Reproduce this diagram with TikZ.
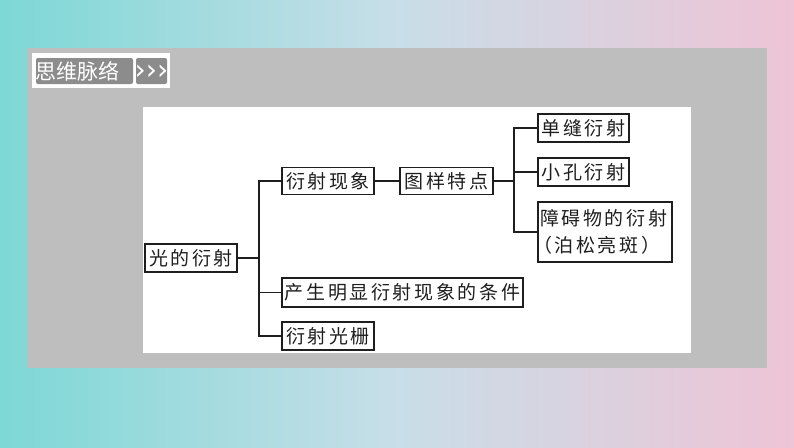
\documentclass[tikz,border=0pt]{standalone}
\usepackage{fontspec}
\newfontfamily\cjk[LetterSpace=14]{Noto Sans CJK SC}
\newfontfamily\cjktitle{Noto Sans CJK SC}
\newfontfamily\dejavu{DejaVu Sans}
\definecolor{bgleft}{RGB}{125,216,214}
\definecolor{bgright}{RGB}{238,196,214}
\definecolor{bgmid}{RGB}{200,222,232}
\definecolor{panel}{RGB}{190,190,190}
\definecolor{tagbg}{RGB}{140,140,140}
\definecolor{ink}{RGB}{30,30,30}
\begin{document}
\begin{tikzpicture}[x=1pt,y=-1pt,
  box/.style={draw=ink, line width=1.1pt, fill=white, inner sep=0pt,
    font=\cjk\fontsize{19}{27}\selectfont, text=ink},
  link/.style={draw=ink, line width=1.1pt},
  tag/.style={fill=tagbg, rounded corners=2pt}]
\useasboundingbox (0,0) rectangle (794,447);
% background
\shade[left color=bgleft, right color=bgright, middle color=bgmid] (0,0) rectangle (794,447);
% gray panel
\fill[panel] (27,48) rectangle (767,368);
% title tag
\fill[white] (32,53) rectangle (170,88);
\fill[tag] (36,58) rectangle (133,84);
\fill[tag] (136,58) rectangle (167,84);
\node[anchor=west, inner sep=0pt, text=white, font=\cjktitle\fontsize{21}{24}\selectfont] (title) at (35,71) {思维脉络};
\node[inner sep=0pt, text=white, font=\dejavu\fontsize{28}{30}\selectfont] (chev) at (151.5,72) {›››};
% white panel
\fill[white] (143,107) rectangle (691,353);
% nodes
\node[box, minimum width=92, minimum height=28] (guang) at (191,258) {光的衍射};
\node[box, minimum width=92, minimum height=27] (xxian) at (328,181) {衍射现象};
\node[box, minimum width=93, minimum height=27] (tuyang) at (446.5,181) {图样特点};
\node[box, minimum width=241, minimum height=29] (chansheng) at (402.5,292.5) {产生明显衍射现象的条件};
\node[box, minimum width=92, minimum height=28] (guangshan) at (328,336) {衍射光栅};
\node[box, minimum width=91, minimum height=28] (danfeng) at (583.5,128) {单缝衍射};
\node[box, minimum width=91, minimum height=28] (xiaokong) at (583.5,172) {小孔衍射};
\node[box, minimum width=134, minimum height=60, text width=130, align=left] (zhangai) at (605,232) {障碍物的衍射\\\hspace*{-7pt}（泊松亮斑）};
% connectors
\coordinate (b1) at (259,258);
\coordinate (b2) at (514,181);
\draw[link] (guang.east) -- (b1);
\draw[link] (xxian.west) -| (b1);
\draw[link] (guangshan.west) -| (b1);
\draw[link] (chansheng.west) -- (chansheng.west -| b1);
\draw[link] (xxian.east) -- (tuyang.west);
\draw[link] (tuyang.east) -- (b2);
\draw[link] (danfeng.west) -| (b2);
\draw[link] (zhangai.west) -| (b2);
\draw[link] (xiaokong.west) -- (xiaokong.west -| b2);
\end{tikzpicture}
\end{document}
